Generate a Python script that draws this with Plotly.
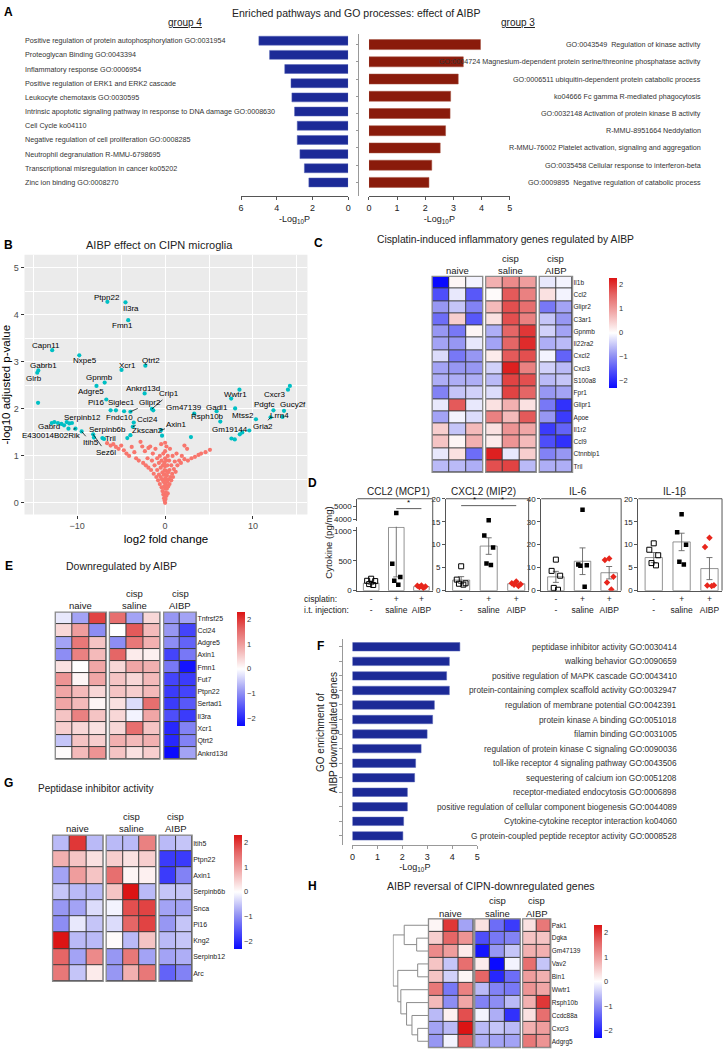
import plotly.graph_objects as go

W, H = 727, 1053
FONT = "Liberation Sans, Arial, Helvetica, sans-serif"
TXT = "#222222"
NAVY = "#1c2a97"
BRICK = "#8a1b0b"

# ---------------- data ----------------
A_G4_TERMS = [
    "Positive regulation of protein autophosphorylation GO:0031954",
    "Proteoglycan Binding GO:0043394",
    "Inflammatory response GO:0006954",
    "Positive regulation of ERK1 and ERK2 cascade",
    "Leukocyte chemotaxis GO:0030595",
    "Intrinsic apoptotic signaling pathway in response to DNA damage GO:0008630",
    "Cell Cycle ko04110",
    "Negative regulation of cell proliferation GO:0008285",
    "Neutrophil degranulation R-MMU-6798695",
    "Transcriptional misregulation in cancer ko05202",
    "Zinc ion binding GO:0008270",
]
A_G4_LOGP = [5.0, 4.4, 3.55, 3.2, 3.15, 3.0, 2.85, 2.85, 2.7, 2.45, 2.2]

A_G3_TERMS = [
    "GO:0043549  Regulation of kinase activity",
    "GO:0004724 Magnesium-dependent protein serine/threonine phosphatase activity",
    "GO:0006511 ubiquitin-dependent protein catabolic process",
    "ko04666 Fc gamma R-mediated phagocytosis",
    "GO:0032148 Activation of protein kinase B activity",
    "R-MMU-8951664 Neddylation",
    "R-MMU-76002 Platelet activation, signaling and aggregation",
    "GO:0035458 Cellular response to interferon-beta",
    "GO:0009895  Negative regulation of catabolic process",
]
A_G3_LOGP = [3.96, 3.35, 3.17, 2.9, 2.88, 2.72, 2.53, 2.23, 2.13]

# volcano: (log2 fold change, -log10 adj p)
VOLC_NS = [
    (-6.6, 1.27), (-6.2, 1.22), (-5.9, 1.25), (-5.6, 1.19), (-5.3, 1.15), (-5.0, 1.22),
    (-4.7, 1.12), (-4.4, 1.05), (-4.1, 1.0), (-3.8, 1.19), (-3.5, 1.08), (-3.3, 0.95),
    (-3.0, 0.9), (-2.8, 1.3), (-2.6, 1.2), (-2.5, 0.85), (-2.3, 1.1), (-2.2, 0.8),
    (-2.0, 0.95), (-1.9, 0.75), (-1.9, 1.17), (-1.7, 1.2), (-1.6, 0.7), (-1.5, 0.9),
    (-1.4, 1.05), (-1.3, 0.62), (-1.2, 0.8), (-1.1, 1.15), (-1.0, 0.55), (-0.9, 0.7),
    (-0.9, 0.95), (-0.8, 0.48), (-0.7, 0.6), (-0.7, 0.85), (-0.6, 1.0), (-0.6, 0.4),
    (-0.5, 0.55), (-0.5, 0.75), (-0.45, 1.25), (-0.4, 0.33), (-0.4, 0.9), (-0.35, 0.5),
    (-0.3, 0.65), (-0.3, 0.25), (-0.25, 0.8), (-0.2, 0.18), (-0.2, 0.45), (-0.2, 1.05),
    (-0.15, 0.6), (-0.12, 0.1), (-0.1, 0.35), (-0.1, 0.85), (-0.05, 0.05), (-0.05, 0.5),
    (-0.05, 0.7), (0.0, 0.0), (0.0, 0.15), (0.0, 0.3), (0.0, 0.42), (0.0, 0.6),
    (0.0, 0.78), (0.0, 0.95), (0.0, 1.1), (0.0, 1.28), (0.05, 0.08), (0.05, 0.52),
    (0.08, 0.22), (0.1, 0.38), (0.1, 0.68), (0.12, 0.9), (0.15, 0.15), (0.15, 1.2),
    (0.2, 0.3), (0.2, 0.58), (0.25, 0.45), (0.25, 0.8), (0.3, 0.2), (0.3, 1.0),
    (0.35, 0.35), (0.35, 0.65), (0.4, 0.5), (0.45, 0.9), (0.5, 0.4), (0.5, 0.7),
    (0.55, 1.15), (0.6, 0.55), (0.7, 0.48), (0.7, 0.8), (0.8, 0.62), (0.85, 1.0),
    (0.9, 0.55), (1.0, 0.72), (1.1, 0.88), (1.2, 0.66), (1.3, 1.05), (1.4, 0.8),
    (1.6, 0.9), (1.8, 0.85), (1.9, 1.0), (2.2, 0.93), (2.2, 1.22), (2.5, 1.15),
    (2.6, 0.9), (3.0, 0.95), (3.4, 0.98), (3.8, 1.02), (4.1, 1.05), (4.6, 1.08),
    (5.1, 1.13),
]
VOLC_SIG = [
    (-6.57, 4.28), (-4.51, 4.27), (-4.2, 3.89), (-12.85, 3.25), (-9.77, 3.14),
    (-14.43, 2.82), (-14.55, 2.77), (-4.96, 2.83), (-2.25, 2.92), (-6.88, 2.56),
    (-7.81, 2.49), (-2.33, 2.33), (-1.5, 2.0), (-1.35, 1.97), (-3.95, 1.94),
    (-6.69, 2.2), (-6.2, 1.97), (-5.6, 1.97), (-4.67, 1.95), (-14.46, 2.13),
    (8.46, 2.41), (7.52, 2.22), (13.98, 2.41), (14.2, 2.49), (5.86, 1.95),
    (12.33, 1.97), (13.53, 1.96), (7.97, 2.01), (13.35, 1.83), (12.0, 1.82),
    (3.31, 1.9), (6.28, 1.73), (10.34, 1.78), (9.58, 1.54), (8.78, 1.5),
    (8.5, 1.46), (7.55, 1.37), (7.93, 1.35), (2.94, 1.4), (-12.9, 1.7),
    (-12.6, 1.72), (-12.2, 1.7), (-11.8, 1.68), (-11.5, 1.65), (-11.2, 1.72),
    (-10.9, 1.69), (-10.6, 1.7), (-10.2, 1.58), (-11.0, 1.58), (-9.5, 1.52),
    (-8.19, 1.46), (-8.1, 1.39), (-7.14, 1.38), (-6.95, 1.36), (-3.68, 1.62),
    (-3.57, 1.71), (-3.95, 1.44), (-4.3, 1.38), (-0.45, 1.55), (-0.35, 1.43),
]
VOLC_LABELS = [
    ("Ptpn22", -6.65, 4.38), ("Il3ra", -3.83, 4.14), ("Fmn1", -4.8, 3.77),
    ("Capn11", -13.6, 3.35), ("Nxpe5", -9.09, 3.02), ("Gabrb1", -13.8, 2.92),
    ("Glrb", -14.9, 2.65), ("Xcr1", -4.28, 2.93), ("Qtrt2", -1.58, 3.02),
    ("Gpnmb", -7.51, 2.66), ("Adgre5", -8.45, 2.36), ("Ankrd13d", -2.55, 2.43),
    ("Pi16", -7.85, 2.13), ("Siglec1", -4.96, 2.13), ("Fndc10", -5.19, 1.81),
    ("Gadl1", 5.86, 2.04), ("Wwtr1", 8.0, 2.31), ("Cxcr3", 12.5, 2.31),
    ("Pdgfc", 11.27, 2.09), ("Gucy2f", 14.54, 2.09), ("Mtss2", 8.84, 1.87),
    ("Lrrn4", 12.97, 1.87), ("Rsph10b", 4.81, 1.83), ("Gm19144", 7.44, 1.56),
    ("Serpinb12", -9.39, 1.81), ("Gabrd", -13.2, 1.63), ("Serpinb6b", -6.57, 1.57),
    ("Tril", -6.2, 1.37),
]
# labels joined to their point by a leader line: (gene, text x, text y, point x, point y)
VOLC_LEADERS = [
    ("Crip1", 0.49, 2.32, -1.5, 2.0), ("Glipr2", -1.69, 2.13, -3.95, 1.94),
    ("Gm47139", 2.18, 2.04, 3.31, 1.9), ("Gria2", 11.13, 1.63, 12.0, 1.82),
    ("Ccl24", -2.03, 1.78, -3.68, 1.62), ("Zkscan2", -2.06, 1.55, -3.95, 1.44),
    ("Axin1", 1.35, 1.66, -0.45, 1.55), ("E430014B02Rik", -12.96, 1.44, -10.2, 1.58),
    ("Itih5", -8.45, 1.29, -9.5, 1.52), ("Sez6l", -6.76, 1.08, -8.19, 1.46),
]

C_GENES = ["Il1b", "Ccl2", "Glipr2", "C3ar1", "Gpnmb", "Il22ra2", "Cxcl2", "Cxcl3",
           "S100a8", "Fpr1", "Glipr1", "Apoe", "Il1r2", "Ccl9", "Ctnnbip1", "Tril"]
C_Z = [
    [-2.3, 0.1, -0.1, 0.8, 1.2, 1.0, -0.2, -0.1],
    [-1.6, -0.2, -1.5, 0.05, 1.7, 1.3, 0.3, -0.1],
    [-0.9, -0.5, -1.1, 0.7, 1.8, 1.5, -1.2, -0.8],
    [-1.3, 0.5, -1.5, 0.3, 1.8, 1.3, -0.5, -0.9],
    [-0.9, -1.2, 0.1, -0.7, 1.6, 2.0, -0.4, -0.8],
    [-0.8, -0.9, -0.2, -0.8, 1.6, 2.1, -0.7, -0.6],
    [-0.3, -1.2, -0.9, 0.2, 1.7, 1.8, -0.1, -1.4],
    [-0.8, -0.9, -0.9, -0.4, 2.2, 1.3, -0.4, -0.6],
    [-0.7, -0.7, -0.7, -0.6, 1.9, 1.8, -0.6, -0.5],
    [-1.1, -0.5, -0.4, -0.3, 1.9, 1.6, -0.9, -0.8],
    [-0.2, 1.7, -0.2, 0.3, 0.8, 0.3, -1.2, -1.9],
    [-0.8, -0.1, -0.3, 1.3, 0.7, 1.7, -0.9, -1.8],
    [0.5, -0.5, 0.7, 0.3, 1.1, 0.9, -1.8, -1.4],
    [0.6, 0.1, 0.8, 0.2, 1.1, 0.7, -1.6, -1.9],
    [-0.2, 0.3, -1.3, 2.2, -0.2, 0.5, -1.1, -0.9],
    [-0.6, -0.6, -0.7, 1.8, 1.9, -0.6, -0.7, -0.7],
]

CYTO_NAMES = ["CCL2 (MCP1)", "CXCL2 (MIP2)", "IL-6", "IL-1β"]
CYTO_GROUPS = ["-<br>-", "+<br>saline", "+<br>AIBP"]
CYTO_MEAN = [[125, 1060, 68], [2.3, 9.7, 1.5], [6.0, 12.8, 7.8], [7.2, 10.6, 4.8]]
CYTO_SEM = [[22, 830, 8], [0.75, 1.8, 0.2], [2.4, 5.8, 2.7], [1.1, 1.9, 2.4]]
CYTO_PTS = [
    [[200, 165, 160, 110, 95], [4500, 450, 230, 165, 100], [88, 80, 70, 62, 45]],
    [[5.3, 2.4, 1.6, 1.5, 1.3], [15.3, 12.0, 9.4, 5.9, 5.6], [2.0, 1.6, 1.4, 1.3, 1.0]],
    [[13.5, 8.6, 6.5, 1.2, 0.4], [35.2, 11.4, 11.0, 10.8, 1.7], [14.0, 13.3, 6.0, 3.5, 0.5]],
    [[10.3, 8.9, 7.7, 6.0, 5.5], [16.6, 12.7, 10.0, 6.3, 5.7], [11.5, 9.5, 1.2, 1.1, 1.0]],
]

E_GENES = ["Tnfrsf25", "Ccl24", "Adgre5", "Axin1", "Fmn1", "Fut7", "Ptpn22", "Sertad1",
           "Il3ra", "Xcr1", "Qtrt2", "Ankrd13d"]
E_Z = [
    [-0.2, -0.8, 1.9, 1.5, -0.8, 0.4, -0.9, -0.8],
    [0.4, 1.0, -1.0, 0.0, 1.7, 0.7, -0.9, -1.7],
    [-0.8, 1.4, 0.6, -1.0, 1.4, 0.8, -1.0, -1.4],
    [-1.0, 1.3, 0.7, 1.6, 0.2, 0.15, -1.7, -1.2],
    [0.3, 0.0, 0.9, 0.4, 0.9, 0.8, -1.2, -2.2],
    [1.1, 0.1, 0.9, 0.6, 0.4, 0.7, -1.7, -1.8],
    [0.9, 0.7, 0.4, 0.6, 0.5, 0.7, -1.8, -1.7],
    [0.9, 0.7, 0.1, 0.3, -0.3, 1.5, -1.8, -1.5],
    [0.6, 1.3, 0.6, 0.4, -0.1, 0.9, -1.6, -1.8],
    [0.5, 0.4, 0.3, 0.4, 1.5, 0.6, -2.0, -1.1],
    [-0.5, 0.6, 0.5, 0.8, 0.7, 0.8, -2.0, -1.1],
    [0.05, 0.7, 1.1, 0.6, 0.3, 0.5, -2.3, -0.8],
]

F_TERMS = [
    "peptidase inhibitor activity GO:0030414",
    "walking behavior GO:0090659",
    "positive regulation of MAPK cascade GO:0043410",
    "protein-containing complex scaffold activity GO:0032947",
    "regulation of membrane potential GO:0042391",
    "protein kinase A binding GO:0051018",
    "filamin binding GO:0031005",
    "regulation of protein kinase C signaling GO:0090036",
    "toll-like receptor 4 signaling pathway GO:0043506",
    "sequestering of calcium ion GO:0051208",
    "receptor-mediated endocytosis GO:0006898",
    "positive regulation of cellular component biogenesis GO:0044089",
    "Cytokine-cytokine receptor interaction ko04060",
    "G protein-coupled peptide receptor activity GO:0008528",
]
F_LOGP = [4.3, 3.88, 3.77, 3.88, 3.28, 3.21, 2.99, 2.75, 2.53, 2.49, 2.2, 2.2, 2.05, 2.02]

G_GENES = ["Itih5", "Ptpn22", "Axin1", "Serpinb6b", "Snca", "Pi16", "Kng2", "Serpinb12", "Arc"]
G_Z = [
    [-0.6, 2.0, -0.6, -0.6, -0.6, 1.3, -0.6, -0.5],
    [0.8, 0.6, 0.3, 0.5, 0.3, 0.5, -1.8, -1.8],
    [-0.8, 1.0, 0.6, 1.5, 0.1, 0.15, -1.8, -1.1],
    [-0.5, -0.6, -0.6, 0.6, 2.3, -0.6, -0.5, -0.5],
    [-0.9, -0.8, -0.3, -0.1, 1.8, 1.9, -0.8, -0.8],
    [-1.0, -0.2, -0.5, -0.3, 1.6, 1.9, -0.9, -0.5],
    [2.3, -0.6, -0.6, 0.05, -0.6, 0.6, -0.6, -0.5],
    [1.6, -0.8, 1.2, -0.9, 1.4, -0.8, -0.8, -0.7],
    [1.4, -0.5, 0.2, -0.9, 0.8, 1.4, -1.4, -1.1],
]

H_GENES = ["Pak1", "Dgka", "Gm47139", "Vav2", "Bin1", "Wwtr1", "Rsph10b", "Ccdc88a",
           "Cxcr3", "Adgrg5"]
H_Z = [
    [0.1, 2.0, -0.8, 0.3, -1.3, -1.8, 0.3, 1.4],
    [0.5, 1.6, 1.1, -1.6, -1.2, -1.1, 0.6, 0.6],
    [1.2, 1.0, 0.2, -2.2, -0.9, -0.5, 0.8, 0.8],
    [0.6, -0.5, 1.5, 0.2, -2.4, -0.1, 1.5, -0.5],
    [0.6, -0.4, 0.1, 1.6, -2.0, -1.3, 1.0, 0.8],
    [1.4, -1.2, 1.3, -0.6, -1.1, -1.2, 1.1, 0.9],
    [0.7, -1.0, 0.9, -1.1, -1.0, -0.6, 0.8, 2.0],
    [-0.6, 0.15, 1.8, -0.1, -0.7, -1.9, 0.3, 1.5],
    [-0.8, -0.6, 2.4, -0.6, -0.5, -0.6, 0.8, 1.0],
    [-0.9, -0.1, 1.7, -0.7, -0.8, -0.8, 1.4, 1.1],
]
# hierarchical clustering of H rows: (cluster a, cluster b, merge height); new clusters numbered from 10
H_LINKAGE = [(3, 4, 32), (8, 9, 32), (1, 2, 35), (7, 11, 49), (6, 13, 65),
             (0, 12, 72), (5, 14, 82), (10, 16, 91), (15, 17, 105)]

# ---------------- helpers ----------------
CSCALE = [[0.0, "#0a0aff"], [0.15, "#4d4dfa"], [0.3, "#9595f3"], [0.5, "#ffffff"],
          [0.7, "#f0a4a4"], [0.85, "#e56565"], [1.0, "#dc1414"]]


def dx(a, b):
    return [a / W, b / W]


def dy(top, bottom):
    return [1 - bottom / H, 1 - top / H]


def xr(i):
    return "x" if i == 1 else f"x{i}"


def yr(i):
    return "y" if i == 1 else f"y{i}"


def xk(i):
    return "xaxis" if i == 1 else f"xaxis{i}"


def yk(i):
    return "yaxis" if i == 1 else f"yaxis{i}"


fig = go.Figure()
L = {}
shapes = []
ann = []


def text(x, y, s, size=9, anchor="center", color=TXT, angle=0, yanchor="middle"):
    ann.append(dict(x=x / W, y=1 - y / H, xref="paper", yref="paper", text=s,
                    showarrow=False, xanchor=anchor, yanchor=yanchor, textangle=angle,
                    font=dict(size=size, color=color, family=FONT)))


def line_axis(**kw):
    base = dict(showline=True, linecolor="#555", linewidth=1, ticks="outside", ticklen=3,
                tickcolor="#555", tickfont=dict(size=9, color=TXT), showgrid=False,
                zeroline=False)
    base.update(kw)
    return base


LOGP_TITLE = dict(text="-Log<sub>10</sub>P", font=dict(size=9, color=TXT), standoff=3)

# ---------------- panel A ----------------
n4 = len(A_G4_TERMS)
fig.add_trace(go.Bar(x=A_G4_LOGP, y=list(range(n4)), orientation="h", width=0.63,
                     marker=dict(color=NAVY, line=dict(color="#5562b5", width=0.5)),
                     xaxis="x", yaxis="y"))
L["xaxis"] = line_axis(domain=dx(240, 348), range=[6, 0], tickvals=[0, 2, 4, 6],
                       anchor="y", title=LOGP_TITLE)
L["yaxis"] = dict(domain=dy(30, 194), range=[10.98, -0.49], visible=False, anchor="x")
for i, t in enumerate(A_G4_TERMS):
    ann.append(dict(x=20 / W, xref="paper", y=i, yref="y", text=t, showarrow=False,
                    xanchor="left", font=dict(size=7.2, color="#333", family=FONT)))

n3 = len(A_G3_TERMS)
fig.add_trace(go.Bar(x=A_G3_LOGP, y=list(range(n3)), orientation="h", width=0.58,
                     marker=dict(color=BRICK, line=dict(color="#a3503f", width=0.5)),
                     xaxis="x2", yaxis="y2"))
L["xaxis2"] = line_axis(domain=dx(369, 511), range=[0, 5], tickvals=[0, 1, 2, 3, 4, 5],
                        anchor="y2", title=LOGP_TITLE)
L["yaxis2"] = line_axis(domain=dy(30, 194), range=[8.81, -0.63], anchor="free",
                        position=358 / W, tickvals=list(range(n3)), showticklabels=False,
                        ticklen=2, linecolor="#999", tickcolor="#999")
for i, t in enumerate(A_G3_TERMS):
    ann.append(dict(x=706 / W, xref="paper", y=i, yref="y2", text=t, showarrow=False,
                    xanchor="right", font=dict(size=7.2, color="#333", family=FONT)))

text(6, 8, "<b>A</b>", size=12, color="#000")
text(356, 9, "Enriched pathways and GO processes: effect of AIBP", size=10.5)
text(184, 19, "<u>group 4</u>", size=10)
text(519, 19, "<u>group 3</u>", size=10)

# ---------------- panel B (volcano) ----------------
fig.add_trace(go.Scatter(x=[p[0] for p in VOLC_NS], y=[p[1] for p in VOLC_NS], mode="markers",
                         marker=dict(color="#f8766d", size=4.2), xaxis="x3", yaxis="y3"))
fig.add_trace(go.Scatter(x=[p[0] for p in VOLC_SIG], y=[p[1] for p in VOLC_SIG], mode="markers",
                         marker=dict(color="#00bfc4", size=4.2), xaxis="x3", yaxis="y3"))
gg = dict(showgrid=True, gridcolor="white", gridwidth=1.1, zeroline=False, showline=False,
          ticks="outside", ticklen=3, tickcolor="#333",
          tickfont=dict(size=9, color="#4d4d4d"))
L["xaxis3"] = dict(domain=dx(21.7, 307), range=[-16, 16.2], tickvals=[-10, 0, 10],
                   ticktext=["\u221210", "0", "10"], anchor="y3",
                   minor=dict(tickvals=[-15, -5, 5, 15], showgrid=True, gridcolor="white",
                              gridwidth=0.5, ticks=""),
                   title=dict(text="log2 fold change", font=dict(size=11.5, color="#000"),
                              standoff=4), **gg)
L["yaxis3"] = dict(domain=dy(253, 515), range=[-0.25, 5.28], tickvals=[0, 1, 2, 3, 4, 5],
                   anchor="x3",
                   minor=dict(tickvals=[0.5, 1.5, 2.5, 3.5, 4.5], showgrid=True,
                              gridcolor="white", gridwidth=0.5, ticks=""),
                   title=dict(text="-log10 adjusted p-value", font=dict(size=11.5, color="#000"),
                              standoff=4), **gg)
shapes.append(dict(type="rect", xref="x3 domain", yref="y3 domain", x0=0, x1=1, y0=0, y1=1,
                   fillcolor="#ebebeb", line=dict(width=0), layer="below"))
for g, tx, ty in VOLC_LABELS:
    ann.append(dict(x=tx, y=ty, xref="x3", yref="y3", text=g, showarrow=False,
                    font=dict(size=8, color="#000", family=FONT)))
for g, tx, ty, px_, py_ in VOLC_LEADERS:
    ann.append(dict(x=px_, y=py_, xref="x3", yref="y3", ax=tx, ay=ty, axref="x3", ayref="y3",
                    text=g, showarrow=True, arrowhead=0, arrowwidth=0.7, arrowcolor="#000",
                    font=dict(size=8, color="#000", family=FONT)))
text(6, 243, "<b>B</b>", size=12, color="#000")
text(158, 243, "AIBP effect on CIPN microglia", size=11)


# ---------------- heatmap panels ----------------
def heat_panel(zrows, genes, xids, yid, xdoms, ytop, ybot, cb_x, cb_top, cb_len,
               label_size, head_y, groups=((0, 3), (3, 6), (6, 8))):
    n = len(genes)
    for k, ((c0, c1), xi, xd) in enumerate(zip(groups, xids, xdoms)):
        blk = [r[c0:c1] for r in zrows]
        last = k == len(groups) - 1
        fig.add_trace(go.Heatmap(
            z=blk, x=list(range(c1 - c0)), y=list(range(n)), colorscale=CSCALE,
            zmin=-2.3, zmax=2.3, xgap=1, ygap=1, showscale=last, hoverinfo="skip",
            colorbar=dict(x=cb_x / W, xanchor="left", y=1 - cb_top / H, yanchor="top",
                          len=cb_len, lenmode="pixels", thickness=8, outlinewidth=0,
                          xpad=0, ypad=0, ticks="", tickvals=[-2, -1, 0, 1, 2],
                          ticktext=["\u22122", "\u22121", "0", "1", "2"],
                          tickfont=dict(size=7.5, color="#333")),
            xaxis=xr(xi), yaxis=yr(yid)))
        L[xk(xi)] = dict(domain=dx(*xd), range=[-0.5, c1 - c0 - 0.5], visible=False,
                         anchor=yr(yid))
        shapes.append(dict(type="rect", xref=f"{xr(xi)} domain", yref=f"{yr(yid)} domain",
                           x0=0, x1=1, y0=0, y1=1, fillcolor="#3c3c3c",
                           line=dict(width=0), layer="below"))
        shapes.append(dict(type="rect", xref=f"{xr(xi)} domain", yref=f"{yr(yid)} domain",
                           x0=0, x1=1, y0=0, y1=1, line=dict(color="#8c8c8c", width=1.3),
                           layer="above"))
    L[yk(yid)] = dict(domain=dy(ytop, ybot), range=[n - 0.5, -0.5], anchor=xr(xids[-1]),
                      side="right", tickvals=list(range(n)), ticktext=genes, ticks="",
                      showgrid=False, zeroline=False, showline=False,
                      tickfont=dict(size=label_size, color=TXT))
    cx = [(a + b) / 2 for a, b in xdoms]
    text(cx[0], head_y[1], "naive", size=9.5)
    text(cx[1], head_y[0], "cisp", size=9.5)
    text(cx[1], head_y[1], "saline", size=9.5)
    text(cx[2], head_y[0], "cisp", size=9.5)
    text(cx[2], head_y[1], "AIBP", size=9.5)


# panel C
heat_panel(C_Z, C_GENES, [4, 5, 6], 4, [(432.7, 483.7), (486.7, 537.7), (540.7, 574.3)],
           274.7, 472.5, 611, 276, 110, 6.5, (256.7, 268.3))
text(318, 241, "<b>C</b>", size=12, color="#000")
text(507, 238, "Cisplatin-induced inflammatory genes regulated by AIBP", size=10.3)

# panel E
heat_panel(E_Z, E_GENES, [11, 12, 13], 10, [(52.7, 104.3), (107.3, 158.3), (162, 195)],
           613.3, 761.7, 236, 613, 114, 7, (595, 607))
text(6, 567, "<b>E</b>", size=12, color="#000")
text(119, 567, "Downregulated by AIBP", size=10.5)

# panel G
heat_panel(G_Z, G_GENES, [15, 16, 17], 12, [(50, 101), (104, 154.3), (157.3, 190.7)],
           838.3, 985.7, 233, 838, 114, 7, (820, 831.7))
text(6, 786, "<b>G</b>", size=12, color="#000")
text(94, 791, "Peptidase inhibitor activity", size=10)

# panel H
heat_panel(H_Z, H_GENES, [18, 19, 20], 13, [(429, 474.3), (475.7, 521.7), (524, 552.3)],
           922.7, 1052.7, 596, 929, 113, 6.5, (904.3, 917.3))
text(312, 890, "<b>H</b>", size=12, color="#000")
text(492, 890, "AIBP reversal of CIPN-downregulated genes", size=10.5)

pos = {i: (float(i), 0.0) for i in range(len(H_GENES))}
den_x, den_y = [], []
for k, (a, b, h) in enumerate(H_LINKAGE):
    (ya, ha), (yb, hb) = pos[a], pos[b]
    den_x += [ha, h, h, hb, None]
    den_y += [ya, ya, yb, yb, None]
    pos[len(H_GENES) + k] = ((ya + yb) / 2, h)
fig.add_trace(go.Scatter(x=den_x, y=den_y, mode="lines", line=dict(color="#8c8c8c", width=1),
                         xaxis="x21", yaxis="y13", hoverinfo="skip"))
L["xaxis21"] = dict(domain=dx(393, 429), range=[106, 0], visible=False, anchor="y13")

# ---------------- panel D (cytokines) ----------------
JITTER = [0.0, -0.16, 0.16, -0.08, 0.08]
MARKERS = [dict(symbol="square-open", size=5, color="#000", line=dict(width=1)),
           dict(symbol="square", size=4.5, color="#000"),
           dict(symbol="diamond", size=5, color="#e8261c")]
D_X = [7, 8, 9, 10]
D_Y = [5, 7, 8, 9]
D_XDOM = [(357.3, 433.3), (446.7, 530), (542.7, 623.3), (640.7, 725)]
D_CENTER = [399, 484, 580, 677]
D_YAX = [None,
         dict(range=[0, 20], tickvals=[0, 5, 10, 15, 20]),
         dict(range=[0, 40], tickvals=[0, 10, 20, 30, 40]),
         dict(range=[0, 20], tickvals=[0, 5, 10, 15, 20])]
for k in range(4):
    xi, yi = D_X[k], D_Y[k]
    ylist = [5, 6] if k == 0 else [yi]
    fig.add_trace(go.Bar(x=[0, 1, 2], y=CYTO_MEAN[k], width=0.62,
                         marker=dict(color="white", line=dict(color="#777", width=0.8)),
                         error_y=dict(type="data", array=CYTO_SEM[k], color="#666",
                                      thickness=0.9, width=3),
                         xaxis=xr(xi), yaxis=yr(yi)))
    for yy in ylist:
        for g in range(3):
            fig.add_trace(go.Scatter(x=[g + j for j in JITTER], y=CYTO_PTS[k][g],
                                     mode="markers", marker=MARKERS[g], cliponaxis=True,
                                     xaxis=xr(xi), yaxis=yr(yy)))
    L[xk(xi)] = line_axis(domain=dx(*D_XDOM[k]), range=[-0.55, 2.45], tickvals=[0, 1, 2],
                          ticktext=CYTO_GROUPS, ticks="", anchor=yr(yi),
                          tickfont=dict(size=8.5, color=TXT))
    if k:
        L[yk(yi)] = line_axis(domain=dy(499, 591.7), anchor=xr(xi),
                              tickfont=dict(size=8, color=TXT), **D_YAX[k])
    shapes.append(dict(type="line", xref=f"{xr(xi)} domain", yref="paper", x0=0, x1=1,
                       y0=1 - 499 / H, y1=1 - 499 / H, line=dict(color="#555", width=1)))
    shapes.append(dict(type="line", xref=f"{xr(xi)} domain", yref="paper", x0=1, x1=1,
                       y0=1 - 499 / H, y1=1 - 591.7 / H, line=dict(color="#555", width=1)))
    text(D_CENTER[k], 492, CYTO_NAMES[k], size=10)

L["yaxis5"] = line_axis(domain=dy(527.3, 591.7), range=[0, 1070], tickvals=[0, 500, 1000],
                        anchor="x7", tickfont=dict(size=8, color=TXT))
L["yaxis6"] = line_axis(domain=dy(499, 521), range=[3925, 5580], tickvals=[4000, 5000],
                        anchor="x7", tickfont=dict(size=8, color=TXT))

# significance brackets
fig.add_trace(go.Scatter(x=[1, 2], y=[4830, 4830], mode="lines", line=dict(color="#333", width=0.8),
                         xaxis="x7", yaxis="y6"))
ann.append(dict(x=1.5, y=4830, xref="x7", yref="y6", text="*", showarrow=False,
                yanchor="bottom", font=dict(size=8, color="#000", family=FONT)))
fig.add_trace(go.Scatter(x=[0, 2], y=[18.5, 18.5], mode="lines", line=dict(color="#333", width=0.8),
                         xaxis="x8", yaxis="y7"))
for sx in (0.5, 1.5):
    ann.append(dict(x=sx, y=18.5, xref="x8", yref="y7", text="*", showarrow=False,
                    yanchor="bottom", font=dict(size=8, color="#000", family=FONT)))

text(312, 483, "<b>D</b>", size=12, color="#000")
text(328, 543, "Cytokine (pg/mg)", size=9.5, angle=-90)
text(301, 600, "cisplatin:", size=8.5, anchor="left")
text(301, 611, "i.t. injection:", size=8.5, anchor="left")

# ---------------- panel F ----------------
nf = len(F_TERMS)
fig.add_trace(go.Bar(x=F_LOGP, y=list(range(nf)), orientation="h", width=0.58,
                     marker=dict(color=NAVY, line=dict(color="#5562b5", width=0.5)),
                     xaxis="x14", yaxis="y11"))
L["xaxis14"] = line_axis(domain=dx(352.3, 478.3), range=[0, 5], tickvals=[0, 1, 2, 3, 4, 5],
                         anchor="y11", linecolor="#999", tickcolor="#999", title=LOGP_TITLE)
L["yaxis11"] = line_axis(domain=dy(640, 848), range=[13.61, -0.57], anchor="free",
                         position=342.3 / W, tickvals=list(range(nf)), showticklabels=False,
                         linecolor="#999", tickcolor="#999")
for i, t in enumerate(F_TERMS):
    ann.append(dict(x=681.7 / W, xref="paper", y=i, yref="y11", text=t, showarrow=False,
                    xanchor="right", font=dict(size=8.3, color="#333", family=FONT)))
text(320, 648, "<b>F</b>", size=12, color="#000")
text(326, 735, "GO enrichment of<br>AIBP downregulated genes", size=10, angle=-90)

fig.update_layout(
    width=W, height=H, margin=dict(l=0, r=0, t=0, b=0), autosize=False,
    paper_bgcolor="white", plot_bgcolor="rgba(0,0,0,0)", showlegend=False,
    font=dict(family=FONT, color=TXT), annotations=ann, shapes=shapes, **L)

# the page body has a default 8px margin; drop it so the figure sits at the window origin
fig.write_html("out.html", config={"displayModeBar": False},
               post_script="document.body.style.margin = '0px';")
